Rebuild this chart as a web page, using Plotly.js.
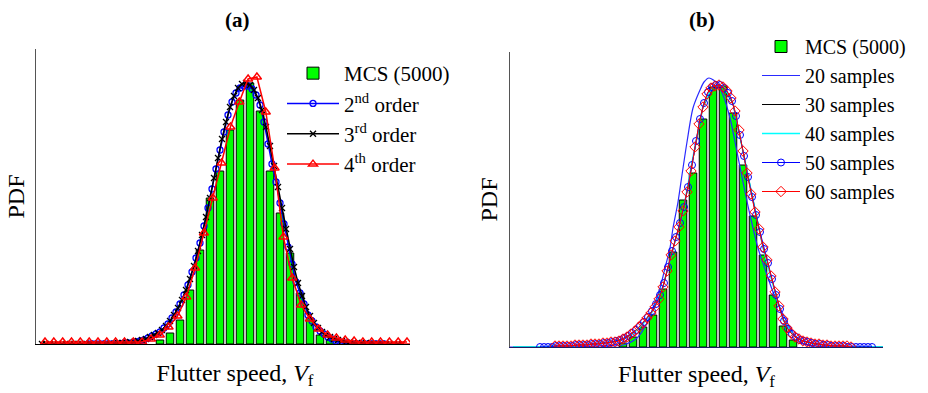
<!DOCTYPE html>
<html>
<head>
<meta charset="utf-8">
<script src="https://cdn.plot.ly/plotly-3.0.1.min.js"></script>
<style>html,body{margin:0;padding:0;background:#fff;}#chart{width:928px;height:393px;}</style>
</head>
<body>
<div id="chart"></div>
<script>
// ---------- Panel (a) ----------
const binsA = [13,14,15,16,17,18,19,20,21,22,23,24,25,26,27,28,29,30];
const mcsA  = [0.004,0.011,0.024,0.054,0.094,0.146,0.173,0.214,0.244,0.261,0.233,0.173,0.131,0.091,0.051,0.026,0.009,0.004];

const xOrder2 = [5.8,6.2,6.6,7.0,7.4,7.8,8.2,8.6,9.0,9.4,9.8,10.2,10.6,11.0,11.4,11.8,12.2,12.6,13.0,13.4,13.8,14.2,14.6,15.0,15.4,15.8,16.2,16.6,17.0,17.4,17.8,18.2,18.6,19.0,19.4,19.8,20.2,20.6,21.0,21.4,21.8,22.2,22.6,23.0,23.4,23.8,24.2,24.6,25.0,25.4,25.8,26.2,26.6,27.0,27.4,27.8,28.2,28.6,29.0,29.4,29.8,30.2,30.6,31.0,31.4,31.8,32.2,32.6,33.0,33.4,33.8,34.2,34.6,35.0,35.4];
const yOrder2 = [0,0,0,0,0,0,0,0,0,0.001,0.001,0.001,0.002,0.003,0.004,0.006,0.008,0.010,0.012,0.016,0.020,0.026,0.032,0.040,0.049,0.059,0.072,0.086,0.101,0.118,0.136,0.155,0.175,0.194,0.212,0.229,0.242,0.251,0.256,0.258,0.258,0.255,0.249,0.239,0.222,0.200,0.180,0.162,0.141,0.120,0.097,0.080,0.062,0.051,0.040,0.029,0.023,0.017,0.013,0.010,0.007,0.005,0.003,0.002,0.001,0.001,0,0,0,0,0,0,0,0,0];

const xOrder3 = [1.2,1.6,2.0,2.4,2.8,3.2,3.6,4.0,4.4,4.8,5.2,5.6,6.0,6.4,6.8,7.2,7.6,8.0,8.4,8.8,9.2,9.6,10.0,10.4,10.8,11.2,11.6,12.0,12.4,12.8,13.2,13.6,14.0,14.4,14.8,15.2,15.6,16.0,16.4,16.8,17.2,17.6,18.0,18.4,18.8,19.2,19.6,20.0,20.4,20.8,21.2,21.6,22.0,22.4,22.8,23.2,23.6,24.0,24.4,24.8,25.2,25.6,26.0,26.4,26.8,27.2,27.6,28.0,28.4,28.8,29.2,29.6,30.0,30.4,30.8,31.2,31.6,32.0,32.4,32.8,33.2,33.6,34.0,34.4,34.8,35.2,35.6,36.0,36.4,36.8,37.2];
const yOrder3 = [0,0,0,0,0,0,0,0,0,0,0,0,0,0,0,0,0,0,
  0,0.001,0.001,0.001,0.002,0.002,0.003,0.004,0.005,0.007,
  0.009,0.011,0.014,0.018,0.023,0.029,0.036,0.044,0.054,0.065,
  0.078,0.093,0.109,0.127,0.146,0.166,0.186,0.205,0.222,0.237,
  0.248,0.256,0.260,0.261,0.259,0.254,0.246,0.234,0.217,0.198,
  0.178,0.157,0.136,0.115,0.095,0.077,0.061,0.048,0.037,0.028,
  0.021,0.016,0.012,0.009,0.007,0.005,0.004,0.003,0.002,0.002,
  0.001,0.001,0.001,0.001,
  0,0,0,0,0,0,0,0,0];

const xOrder4 = [1.50,2.38,3.27,4.15,5.03,5.92,6.80,7.68,8.56,9.45,10.33,11.21,12.10,12.98,13.86,14.75,15.63,16.51,17.39,18.28,19.16,20.04,20.93,21.81,22.69,23.58,24.46,25.34,26.22,27.11,27.99,28.87,29.76,30.64,31.52,32.41,33.29,34.17,35.05,35.94,36.82,37.70];
const yOrder4 = [0.002,0.002,0.002,0.002,0.002,0.002,0.002,0.002,0.002,0.002,0.002,0.002,0.005,0.009,0.017,0.028,0.047,0.076,0.111,0.146,0.181,0.217,0.242,0.265,0.267,0.232,0.176,0.107,0.066,0.039,0.025,0.015,0.009,0.006,0.004,0.003,0.002,0.002,0.002,0.002,0.002,0.002];

// ---------- Panel (b) ----------
const binsB = [12,13,14,15,16,17,18,19,20,21,22,23,24,25,26,27,28,29];
const mcsB  = [0.004,0.010,0.020,0.032,0.058,0.095,0.147,0.174,0.228,0.260,0.261,0.234,0.182,0.131,0.092,0.052,0.021,0.007];

const x20 = [0.7,5.7,9.7,12.0,13.4,14.4,15.0,15.7,16.2,16.7,17.0,17.5,17.9,18.4,19.0,19.7,20.1,20.6,21.4,22.0,22.7,23.4,24.0,24.7,25.5,26.4,27.0,27.7,28.7,29.7,31.2,33.7,38.0];
const y20 = [0,0,0.001,0.002,0.009,0.024,0.039,0.059,0.079,0.099,0.119,0.145,0.172,0.205,0.239,0.257,0.265,0.269,0.264,0.252,0.229,0.195,0.165,0.132,0.099,0.072,0.055,0.039,0.019,0.005,0.001,0,0];

const x3040 = [1,2,3,4,5,6,7,8,9,10,11,12,13,14,15,16,17,18,19,20,21,22,23,24,25,26,27,28,29,30,31,32,33,34,35,36,37,38];
const y30 = [0,0,0,0,0.001,0.001,0.001,0.002,0.003,0.004,0.005,0.008,0.014,0.024,0.037,0.060,0.099,0.136,0.188,0.240,0.260,0.260,0.243,0.196,0.147,0.100,0.063,0.028,0.012,0.006,0.004,0.002,0.001,0.001,0,0,0,0];
const y40 = [0,0,0,0,0.001,0.001,0.001,0.002,0.003,0.004,0.005,0.008,0.013,0.023,0.036,0.061,0.098,0.135,0.190,0.241,0.261,0.261,0.244,0.195,0.146,0.099,0.062,0.027,0.012,0.006,0.003,0.002,0.001,0.001,0,0,0,0];

const x50 = [3.7,4.1,4.5,4.9,5.3,5.7,6.1,6.5,6.9,7.3,7.7,8.1,8.5,8.9,9.3,9.7,10.1,10.5,10.9,11.3,11.7,12.1,12.5,12.9,13.3,13.7,14.1,14.5,14.9,15.3,15.7,16.1,16.5,16.9,17.3,17.7,18.1,18.5,18.9,19.3,19.7,20.1,20.5,20.9,21.3,21.7,22.1,22.5,22.9,23.3,23.7,24.1,24.5,24.9,25.3,25.7,26.1,26.5,26.9,27.3,27.7,28.1,28.5,28.9,29.3,29.7,30.1,30.5,30.9,31.3,31.7,32.1,32.5,32.9,33.3,33.7,34.1,34.5,34.9,35.3,35.7,36.1,36.5,36.9];
const y50 = [0,0,0,0,0.001,0.001,0.001,0.001,0.001,0.002,0.002,0.002,0.002,0.003,0.003,0.003,0.004,0.004,0.005,0.006,0.007,0.009,0.011,0.014,0.017,0.021,0.025,0.030,0.036,0.043,0.052,0.064,0.080,0.096,0.110,0.124,0.140,0.160,0.182,0.206,0.228,0.244,0.255,0.260,0.262,0.262,0.259,0.254,0.246,0.231,0.212,0.191,0.170,0.150,0.132,0.115,0.098,0.084,0.068,0.052,0.038,0.026,0.018,0.013,0.010,0.007,0.006,0.005,0.004,0.003,0.003,0.002,0.002,0.001,0.001,0.001,0.001,0,0,0,0,0,0,0];

const x60 = [5.2,5.6,6.0,6.4,6.8,7.2,7.6,8.0,8.4,8.8,9.2,9.6,10.0,10.4,10.8,11.2,11.6,12.0,12.4,12.8,13.2,13.6,14.0,14.4,14.8,15.2,15.6,16.0,16.4,16.8,17.2,17.6,18.0,18.4,18.8,19.2,19.6,20.0,20.4,20.8,21.2,21.6,22.0,22.4,22.8,23.2,23.6,24.0,24.4,24.8,25.2,25.6,26.0,26.4,26.8,27.2,27.6,28.0,28.4,28.8,29.2,29.6,30.0,30.4,30.8,31.2,31.6,32.0,32.4,32.8,33.2,33.6,34.0,34.4,34.8];
const y60 = [0.001,0.001,0.001,0.001,0.001,0.002,0.002,0.002,0.002,0.003,0.003,0.003,0.004,0.004,0.005,0.005,0.006,0.008,0.010,0.013,0.016,0.020,0.024,0.029,0.034,0.040,0.048,0.060,0.076,0.092,0.106,0.120,0.136,0.155,0.176,0.200,0.223,0.240,0.253,0.259,0.261,0.262,0.260,0.256,0.249,0.236,0.217,0.196,0.174,0.153,0.135,0.118,0.100,0.087,0.071,0.055,0.041,0.028,0.019,0.014,0.010,0.008,0.006,0.005,0.004,0.003,0.003,0.002,0.002,0.001,0.001,0.001,0.001,0.001,0];

const FONT = '"Liberation Serif", serif';

const traces = [
  {type:'bar', x:binsA, y:mcsA, name:'MCS (5000)', xaxis:'x', yaxis:'y', legend:'legend',
   marker:{color:'#00ff00', line:{color:'#000', width:1}}},
  {type:'scatter', mode:'lines+markers', x:xOrder2, y:yOrder2, name:'2<sup>nd</sup> order', xaxis:'x', yaxis:'y', legend:'legend',
   line:{color:'#0000ff', width:1.5}, marker:{symbol:'circle-open', size:6, color:'#0000ff', line:{width:1.3}}},
  {type:'scatter', mode:'lines+markers', x:xOrder3, y:yOrder3, name:'3<sup>rd</sup> order', xaxis:'x', yaxis:'y', legend:'legend',
   line:{color:'#000', width:1.5}, marker:{symbol:'x-thin', size:6, color:'#000', line:{width:1.3, color:'#000'}}},
  {type:'scatter', mode:'lines+markers', x:xOrder4, y:yOrder4, name:'4<sup>th</sup> order', xaxis:'x', yaxis:'y', legend:'legend',
   line:{color:'#ff0000', width:1.5}, marker:{symbol:'triangle-up-open', size:8, color:'#ff0000', line:{width:1.4}}},

  {type:'bar', x:binsB, y:mcsB, name:'MCS (5000)', xaxis:'x2', yaxis:'y2', legend:'legend2',
   marker:{color:'#00ff00', line:{color:'#000', width:1}}},
  {type:'scatter', mode:'lines', x:x20, y:y20, name:'20 samples', xaxis:'x2', yaxis:'y2', legend:'legend2',
   line:{color:'#2a2aff', width:1.2, shape:'spline', smoothing:0.8}},
  {type:'scatter', mode:'lines', x:x3040, y:y30, name:'30 samples', xaxis:'x2', yaxis:'y2', legend:'legend2',
   line:{color:'#000', width:1}},
  {type:'scatter', mode:'lines', x:x3040, y:y40, name:'40 samples', xaxis:'x2', yaxis:'y2', legend:'legend2',
   line:{color:'#00ffff', width:1.4}},
  {type:'scatter', mode:'lines+markers', x:x50, y:y50, name:'50 samples', xaxis:'x2', yaxis:'y2', legend:'legend2',
   line:{color:'#0000ff', width:1}, marker:{symbol:'circle-open', size:7, color:'#0000ff', line:{width:1}}},
  {type:'scatter', mode:'lines+markers', x:x60, y:y60, name:'60 samples', xaxis:'x2', yaxis:'y2', legend:'legend2',
   line:{color:'#ff0000', width:1}, marker:{symbol:'diamond-open', size:8, color:'#ff0000', line:{width:1}}}
];

const axX = {showline:true, linecolor:'#000', linewidth:1, showticklabels:false, ticks:'', showgrid:false, zeroline:false, fixedrange:true};
const axY = {showline:true, linecolor:'#555', linewidth:1, showticklabels:false, ticks:'', showgrid:false, zeroline:false, fixedrange:true};

const layout = {
  width:928, height:393,
  margin:{l:0, r:0, t:0, b:0},
  paper_bgcolor:'#fff', plot_bgcolor:'#fff',
  font:{family:FONT, color:'#000', size:22},
  bargap:0.25,
  showlegend:true,
  xaxis:Object.assign({}, axX, {domain:[36/928, 410/928], range:[0.6, 38.0], anchor:'y',
    title:{text:'&nbsp;&nbsp;&nbsp;&nbsp;Flutter speed, <i>V</i><sub>f</sub>', font:{family:FONT, size:24}, standoff:20}}),
  yaxis:Object.assign({}, axY, {domain:[1-344/393, 1-49/393], range:[0, 0.295], anchor:'x',
    title:{text:'PDF', font:{family:FONT, size:24}, standoff:3}}),
  xaxis2:Object.assign({}, axX, {domain:[510/928, 883/928], range:[0.7, 38.0], anchor:'y2', linecolor:'#1c1c66',
    title:{text:'Flutter speed, <i>V</i><sub>f</sub>', font:{family:FONT, size:24}, standoff:18}}),
  yaxis2:Object.assign({}, axY, {domain:[1-347/393, 1-52/393], range:[0, 0.295], anchor:'x2',
    title:{text:'PDF', font:{family:FONT, size:24}, standoff:4}}),
  legend:{x:282/928, y:1-53/393, xanchor:'left', yanchor:'top', bgcolor:'rgba(0,0,0,0)', borderwidth:0,
    font:{family:FONT, size:21, color:'#000'}, itemwidth:52, traceorder:'normal'},
  legend2:{x:757/928, y:1-27/393, xanchor:'left', yanchor:'top', bgcolor:'rgba(0,0,0,0)', borderwidth:0,
    font:{family:FONT, size:20, color:'#000'}, itemwidth:38, traceorder:'normal'},
  annotations:[
    {text:'<b>(a)</b>', x:237/928, y:1-20/393, xref:'paper', yref:'paper', xanchor:'center', yanchor:'middle', showarrow:false, font:{family:FONT, size:21}},
    {text:'<b>(b)</b>', x:702/928, y:1-20/393, xref:'paper', yref:'paper', xanchor:'center', yanchor:'middle', showarrow:false, font:{family:FONT, size:21}}
  ]
};

Plotly.newPlot('chart', traces, layout, {displayModeBar:false, staticPlot:true});
</script>
</body>
</html>
